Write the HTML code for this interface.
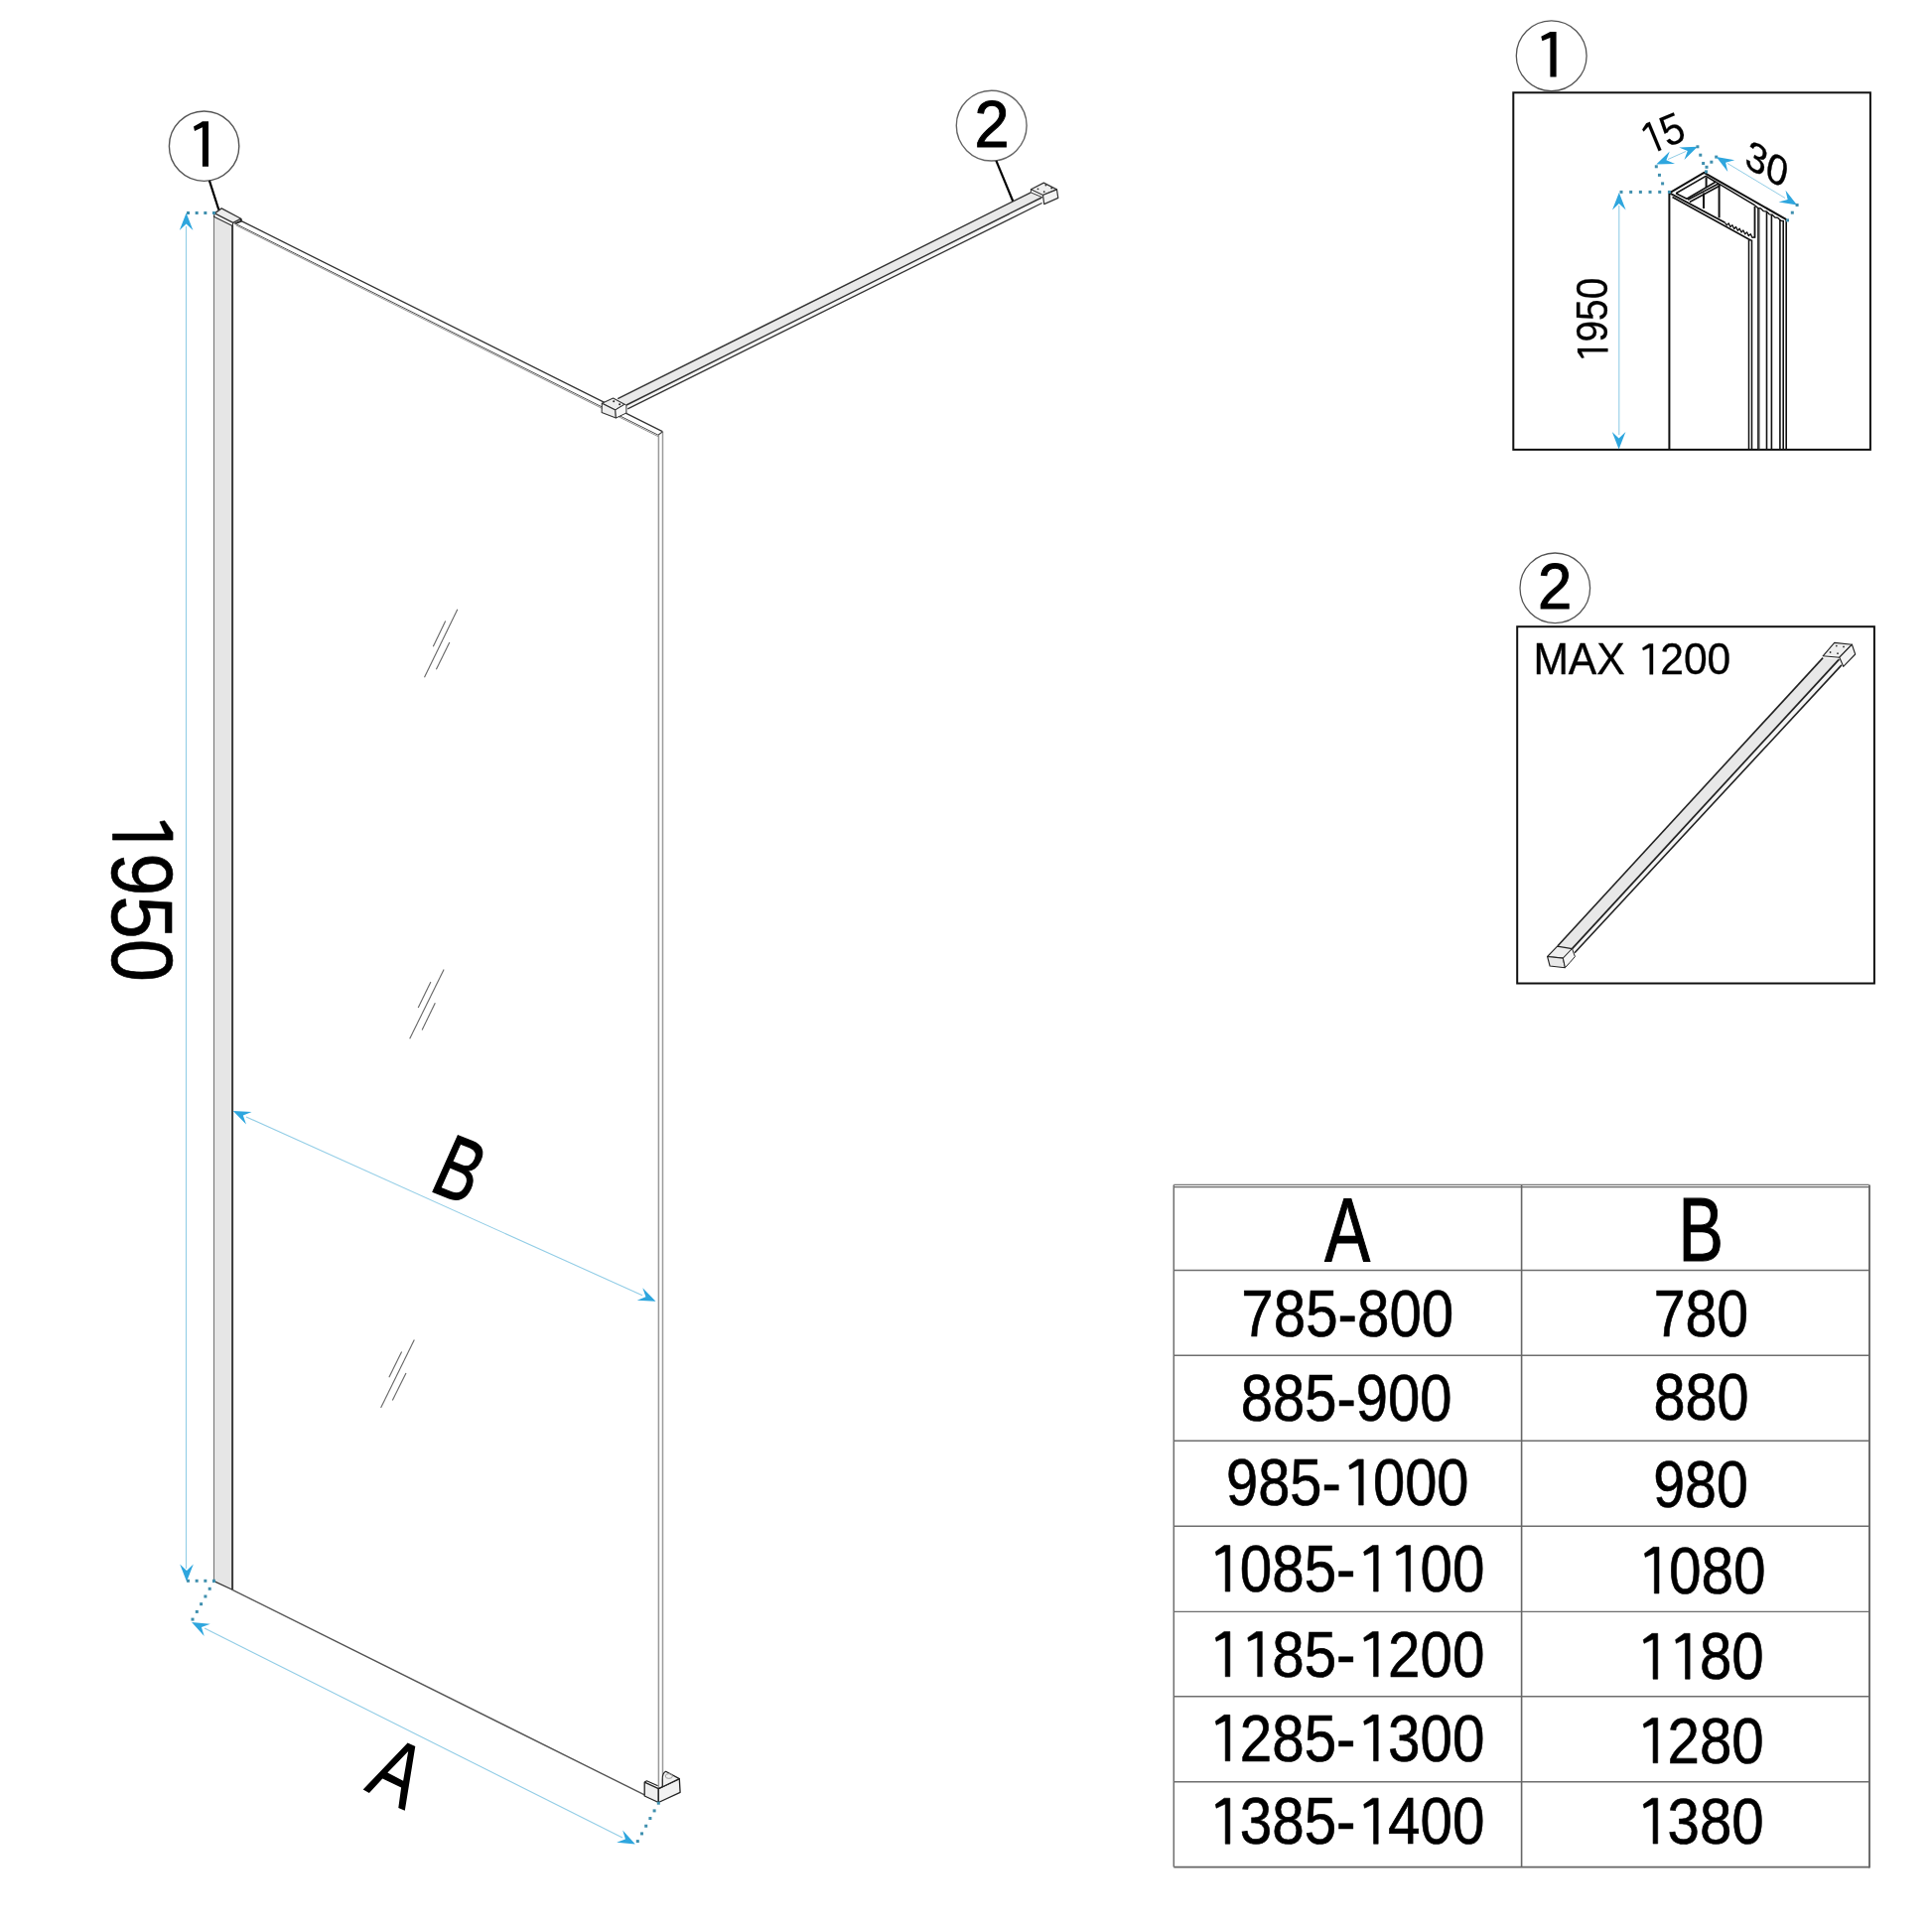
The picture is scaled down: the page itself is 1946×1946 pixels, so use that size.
<!DOCTYPE html>
<html><head><meta charset="utf-8"><style>
html,body{margin:0;padding:0;background:#fff;}
svg{display:block;will-change:transform;}
text{font-family:"Liberation Sans",sans-serif;}
</style></head><body>
<svg width="1946" height="1946" viewBox="0 0 1946 1946">
<rect x="0" y="0" width="1946" height="1946" fill="#fff"/>
<circle cx="205.6" cy="147.2" r="35.2" fill="#fff" stroke="#555" stroke-width="1.4"/>
<path d="M203.9,122.3 L210.0,122.3 L210.0,167.8 L203.9,167.8 L203.9,128.2 L196.0,132.0 L195.0,127.5 L202.5,123.2 Z" fill="#000"/>
<line x1="210.90" y1="181.80" x2="220.40" y2="211.50" stroke="#000" stroke-width="2.2"/>
<circle cx="998.7" cy="126.6" r="35.4" fill="#fff" stroke="#666" stroke-width="1.4"/>
<g transform="matrix(0.62998 0.00000 0.00000 0.66023 981.532 147.500)"><text x="0" y="0" font-size="100" fill="#000" stroke="#000" stroke-width="1.550" style="font-kerning:none">2</text></g>
<line x1="1003.40" y1="161.90" x2="1020.40" y2="203.00" stroke="#000" stroke-width="2.2"/>
<path d="M215.50,218.50 L234.20,227.50 L234.20,1601.30 L215.50,1592.60 Z" fill="#e6e6e6" stroke="none" stroke-width="1" stroke-linejoin="round"/>
<line x1="215.50" y1="218.00" x2="215.50" y2="1592.60" stroke="#777" stroke-width="1.1"/>
<line x1="234.10" y1="227.00" x2="234.10" y2="1601.50" stroke="#3a3a3a" stroke-width="2.0"/>
<line x1="215.50" y1="1592.60" x2="234.10" y2="1601.30" stroke="#333" stroke-width="1.2"/>
<path d="M216.20,214.90 L223.20,209.90 L242.70,220.30 L234.80,224.40 Z" fill="#ececec" stroke="#333" stroke-width="1.3" stroke-linejoin="round"/>
<path d="M216.20,214.90 L215.50,218.20 L234.20,227.50 L234.80,224.40" fill="none" stroke="#333" stroke-width="1.2" stroke-linejoin="round"/>
<path d="M242.70,220.30 L243.10,222.60 L236.50,225.50" fill="none" stroke="#222" stroke-width="1.8" stroke-linejoin="round"/>
<line x1="243.10" y1="222.60" x2="667.30" y2="434.70" stroke="#333" stroke-width="1.3"/>
<line x1="236.50" y1="225.00" x2="663.20" y2="438.30" stroke="#555" stroke-width="1.0"/>
<line x1="237.50" y1="226.80" x2="663.20" y2="439.80" stroke="#888" stroke-width="0.9"/>
<line x1="663.40" y1="438.00" x2="663.40" y2="1801.00" stroke="#999" stroke-width="1.5"/>
<line x1="667.50" y1="434.80" x2="667.50" y2="1799.00" stroke="#9a9a9a" stroke-width="1.5"/>
<line x1="663.20" y1="438.00" x2="667.50" y2="434.80" stroke="#444" stroke-width="1.1"/>
<line x1="234.10" y1="1601.30" x2="649.20" y2="1807.90" stroke="#555" stroke-width="1.4"/>
<line x1="460.80" y1="613.70" x2="427.50" y2="682.30" stroke="#666" stroke-width="1.1"/>
<line x1="448.70" y1="625.60" x2="436.30" y2="651.20" stroke="#666" stroke-width="1.1"/>
<line x1="452.80" y1="647.10" x2="439.40" y2="674.30" stroke="#666" stroke-width="1.1"/>
<line x1="447.10" y1="976.60" x2="412.70" y2="1046.20" stroke="#666" stroke-width="1.1"/>
<line x1="433.90" y1="989.00" x2="421.20" y2="1014.90" stroke="#666" stroke-width="1.1"/>
<line x1="438.30" y1="1010.20" x2="425.10" y2="1037.60" stroke="#666" stroke-width="1.1"/>
<line x1="417.30" y1="1349.50" x2="383.60" y2="1418.10" stroke="#666" stroke-width="1.1"/>
<line x1="404.60" y1="1361.40" x2="391.90" y2="1387.30" stroke="#666" stroke-width="1.1"/>
<line x1="409.00" y1="1382.90" x2="395.30" y2="1410.60" stroke="#666" stroke-width="1.1"/>
<path d="M622.20,401.70 L1038.40,193.90 L1049.20,199.00 L631.00,408.00 Z" fill="#e9e9e9" stroke="none" stroke-width="1" stroke-linejoin="round"/>
<path d="M631.00,408.00 L1049.20,199.00 L1049.60,204.50 L632.20,411.80 Z" fill="#f6f6f6" stroke="none" stroke-width="1" stroke-linejoin="round"/>
<line x1="622.20" y1="401.70" x2="1038.40" y2="193.90" stroke="#333" stroke-width="1.4"/>
<line x1="631.00" y1="408.00" x2="1049.20" y2="199.00" stroke="#333" stroke-width="1.4"/>
<line x1="632.20" y1="411.80" x2="1049.60" y2="204.50" stroke="#333" stroke-width="1.3"/>
<path d="M1038.40,190.70 L1051.30,184.10 L1064.50,190.90 L1050.50,196.50 Z" fill="#eeeeee" stroke="#333" stroke-width="1.2" stroke-linejoin="round"/>
<path d="M1050.50,196.50 L1064.50,190.90 L1065.80,199.40 L1051.70,205.60 Z" fill="#f3f3f3" stroke="#333" stroke-width="1.2" stroke-linejoin="round"/>
<path d="M1038.40,190.70 L1038.40,193.90 L1050.50,199.00" fill="none" stroke="#333" stroke-width="1.0" stroke-linejoin="round"/>
<circle cx="1053.4" cy="186.6" r="0.9" fill="#333"/>
<circle cx="1045.5" cy="190.3" r="0.9" fill="#333"/>
<circle cx="1059.2" cy="189.5" r="0.9" fill="#333"/>
<circle cx="1051.7" cy="193.2" r="0.9" fill="#333"/>
<path d="M606.30,406.30 L617.60,401.10 L629.10,407.30 L619.80,412.90 Z" fill="#ececec" stroke="#333" stroke-width="1.1" stroke-linejoin="round"/>
<path d="M606.30,406.30 L619.80,412.90 L620.40,421.00 L606.10,415.40 Z" fill="#eeeeee" stroke="#333" stroke-width="1.1" stroke-linejoin="round"/>
<path d="M619.80,412.90 L629.10,407.30 L630.90,408.00 L630.90,416.00 L620.40,421.00 Z" fill="#f8f8f8" stroke="#333" stroke-width="1.0" stroke-linejoin="round"/>
<circle cx="618.2" cy="404.2" r="1" fill="#222"/><circle cx="624.1" cy="407.3" r="1" fill="#222"/>
<path d="M649.20,1795.20 L663.30,1801.70 L663.30,1815.50 L649.20,1809.00 Z" fill="#efefef" stroke="#222" stroke-width="1.3" stroke-linejoin="round"/>
<path d="M663.30,1801.70 L684.30,1791.60 L685.10,1805.40 L663.30,1815.50 Z" fill="#f2f2f2" stroke="#222" stroke-width="1.3" stroke-linejoin="round"/>
<path d="M649.20,1795.20 L651.40,1793.80 L662.60,1798.80" fill="none" stroke="#222" stroke-width="1.2" stroke-linejoin="round"/>
<path d="M663.3,1801.7 L684.3,1791.6 L670.6,1784.3 Q667.0,1786.0 667.3,1792.5 L667.3,1799.8 Z" fill="#f2f2f2" stroke="#222" stroke-width="1.2" stroke-linejoin="round"/>
<ellipse cx="673.8" cy="1789.0" rx="3.6" ry="2.4" fill="none" stroke="#999" stroke-width="0.9"/>
<line x1="187.50" y1="228.00" x2="187.50" y2="1580.00" stroke="#92cde6" stroke-width="1.1"/>
<path d="M187.60,214.60 L194.40,232.10 L187.60,225.60 L180.80,232.10 Z" fill="#2ea6de"/>
<path d="M188.00,1593.00 L181.20,1575.50 L188.00,1582.00 L194.80,1575.50 Z" fill="#2ea6de"/>
<rect x="188.00" y="213.00" width="3.0" height="3.0" fill="#3f8fae"/><rect x="196.67" y="213.00" width="3.0" height="3.0" fill="#3f8fae"/><rect x="205.33" y="213.00" width="3.0" height="3.0" fill="#3f8fae"/><rect x="214.00" y="213.00" width="3.0" height="3.0" fill="#3f8fae"/>
<rect x="188.00" y="1590.80" width="3.0" height="3.0" fill="#3f8fae"/><rect x="196.67" y="1590.80" width="3.0" height="3.0" fill="#3f8fae"/><rect x="205.33" y="1590.80" width="3.0" height="3.0" fill="#3f8fae"/><rect x="214.00" y="1590.80" width="3.0" height="3.0" fill="#3f8fae"/>
<rect x="214.00" y="1591.10" width="3.0" height="3.0" fill="#3f8fae"/><rect x="209.70" y="1598.80" width="3.0" height="3.0" fill="#3f8fae"/><rect x="205.40" y="1606.50" width="3.0" height="3.0" fill="#3f8fae"/><rect x="201.10" y="1614.20" width="3.0" height="3.0" fill="#3f8fae"/><rect x="196.80" y="1621.90" width="3.0" height="3.0" fill="#3f8fae"/><rect x="192.50" y="1629.60" width="3.0" height="3.0" fill="#3f8fae"/>
<line x1="206.00" y1="1640.00" x2="627.00" y2="1851.00" stroke="#92cde6" stroke-width="1.1"/>
<path d="M193.10,1634.00 L211.79,1635.75 L202.94,1638.92 L205.71,1647.91 Z" fill="#2ea6de"/>
<path d="M639.80,1857.50 L621.11,1855.75 L629.96,1852.58 L627.20,1843.58 Z" fill="#2ea6de"/>
<rect x="661.80" y="1814.70" width="3.0" height="3.0" fill="#3f8fae"/><rect x="657.60" y="1822.38" width="3.0" height="3.0" fill="#3f8fae"/><rect x="653.40" y="1830.06" width="3.0" height="3.0" fill="#3f8fae"/><rect x="649.20" y="1837.74" width="3.0" height="3.0" fill="#3f8fae"/><rect x="645.00" y="1845.42" width="3.0" height="3.0" fill="#3f8fae"/><rect x="640.80" y="1853.10" width="3.0" height="3.0" fill="#3f8fae"/>
<line x1="248.00" y1="1125.00" x2="647.00" y2="1304.70" stroke="#92cde6" stroke-width="1.1"/>
<path d="M234.80,1119.00 L253.55,1119.99 L244.83,1123.52 L247.96,1132.39 Z" fill="#2ea6de"/>
<path d="M660.50,1310.70 L641.75,1309.73 L650.47,1306.19 L647.32,1297.33 Z" fill="#2ea6de"/>
<g transform="matrix(0.00000 0.77801 -0.86863 0.00000 113.448 815.964)"><text x="0" y="0" font-size="100" fill="#000" stroke="#000" stroke-width="0.729" style="font-kerning:none"> 950</text><path transform="translate(0.000,0)" d="M30.8,-69.8 L38.7,-69.8 L38.7,0 L30.8,0 L30.8,-61.0 L15.2,-54.6 L13.8,-60.2 L29.0,-69.8 Z" fill="#000" stroke="#000" stroke-width="0.729"/></g>
<text transform="matrix(0.589 0.236 -0.368 0.825 431.1 1198.5)" font-size="100" fill="#000" stroke="#000" stroke-width="1.4">B</text>
<path d="M365.7,1802.6 L371.9,1806.0 L385.3,1791.5 L404.1,1800.4 L401.3,1820.9 L407.8,1823.7 L418.3,1759.1 L410.6,1755.4 Z M411.2,1763.9 L390.4,1785.6 L406.1,1793.8 Z" fill="#000" fill-rule="evenodd"/>
<circle cx="1562.7" cy="56.2" r="35.4" fill="#fff" stroke="#555" stroke-width="1.3"/>
<path d="M1561.4,32.0 L1567.6,32.0 L1567.6,77.6 L1561.4,77.6 L1561.4,38.0 L1553.4,41.3 L1552.3,36.8 L1560.0,32.8 Z" fill="#000"/>
<rect x="1524.3" y="93.3" width="359.6" height="359.6" fill="none" stroke="#111" stroke-width="2"/>
<line x1="1681.40" y1="194.40" x2="1681.40" y2="452.90" stroke="#111" stroke-width="2"/>
<path d="M1681.60,194.40 L1716.40,173.80 L1799.30,221.20" fill="none" stroke="#111" stroke-width="2" stroke-linejoin="round"/>
<line x1="1681.60" y1="194.40" x2="1737.50" y2="224.30" stroke="#111" stroke-width="1.8"/>
<line x1="1684.50" y1="198.50" x2="1763.80" y2="242.20" stroke="#111" stroke-width="1.6"/>
<path d="M1688.10,194.80 L1718.20,177.40 L1728.00,183.20 L1699.00,200.20 L1688.10,194.80" fill="none" stroke="#111" stroke-width="1.6" stroke-linejoin="round"/>
<line x1="1700.10" y1="201.30" x2="1730.90" y2="185.00" stroke="#111" stroke-width="1.6"/>
<line x1="1701.90" y1="203.50" x2="1732.30" y2="187.00" stroke="#111" stroke-width="1.6"/>
<line x1="1716.00" y1="194.50" x2="1716.00" y2="210.00" stroke="#111" stroke-width="2"/>
<line x1="1718.60" y1="178.50" x2="1718.60" y2="189.00" stroke="#111" stroke-width="2"/>
<line x1="1731.60" y1="186.00" x2="1731.60" y2="219.40" stroke="#111" stroke-width="2"/>
<line x1="1767.50" y1="207.80" x2="1767.50" y2="239.70" stroke="#111" stroke-width="1.8"/>
<path d="M1737.50,224.30 L1739.34,226.89 L1741.17,224.89 L1743.01,228.68 L1744.85,226.68 L1746.69,230.47 L1748.53,228.46 L1750.36,232.26 L1752.20,230.25 L1754.04,234.04 L1755.88,232.04 L1757.71,235.83 L1759.55,233.83 L1761.39,237.62 L1763.23,235.61 L1765.06,239.41 L1766.90,238.80 L1767.80,239.20" fill="none" stroke="#111" stroke-width="1.3" stroke-linejoin="round"/>
<line x1="1761.50" y1="241.50" x2="1761.50" y2="452.90" stroke="#111" stroke-width="1.5"/>
<line x1="1764.50" y1="241.50" x2="1764.50" y2="452.90" stroke="#111" stroke-width="1.5"/>
<line x1="1770.90" y1="209.30" x2="1770.90" y2="452.90" stroke="#111" stroke-width="1.5"/>
<line x1="1772.00" y1="210.00" x2="1772.00" y2="452.90" stroke="#333" stroke-width="1.0"/>
<line x1="1779.50" y1="213.60" x2="1779.50" y2="452.90" stroke="#111" stroke-width="1.6"/>
<line x1="1784.40" y1="216.50" x2="1784.40" y2="452.90" stroke="#111" stroke-width="1.6"/>
<line x1="1792.90" y1="221.00" x2="1792.90" y2="452.90" stroke="#111" stroke-width="1.6"/>
<line x1="1796.20" y1="222.00" x2="1796.20" y2="452.90" stroke="#111" stroke-width="1.6"/>
<line x1="1799.20" y1="221.20" x2="1799.20" y2="452.90" stroke="#111" stroke-width="1.6"/>
<line x1="1728.00" y1="183.20" x2="1767.80" y2="206.90" stroke="#111" stroke-width="1.5"/>
<path d="M1767.80,206.90 L1770.67,209.49 L1773.54,209.88 L1776.41,212.67 L1779.28,213.06 L1782.15,215.85 L1785.02,216.24 L1787.89,219.03 L1790.76,219.42 L1793.63,222.21 L1796.50,222.60" fill="none" stroke="#111" stroke-width="1.4" stroke-linejoin="round"/>
<line x1="1630.80" y1="207.00" x2="1630.80" y2="438.00" stroke="#92cde6" stroke-width="1.1"/>
<path d="M1630.80,194.00 L1637.60,211.50 L1630.80,205.00 L1624.00,211.50 Z" fill="#2ea6de"/>
<path d="M1630.60,452.40 L1623.80,434.90 L1630.60,441.40 L1637.40,434.90 Z" fill="#2ea6de"/>
<rect x="1631.50" y="191.90" width="3.0" height="3.0" fill="#3f8fae"/><rect x="1641.18" y="191.90" width="3.0" height="3.0" fill="#3f8fae"/><rect x="1650.86" y="191.90" width="3.0" height="3.0" fill="#3f8fae"/><rect x="1660.54" y="191.90" width="3.0" height="3.0" fill="#3f8fae"/><rect x="1670.22" y="191.90" width="3.0" height="3.0" fill="#3f8fae"/><rect x="1679.90" y="191.90" width="3.0" height="3.0" fill="#3f8fae"/>
<rect x="1673.10" y="183.40" width="3.0" height="3.0" fill="#3f8fae"/><rect x="1669.95" y="174.85" width="3.0" height="3.0" fill="#3f8fae"/><rect x="1666.80" y="166.30" width="3.0" height="3.0" fill="#3f8fae"/>
<line x1="1680.00" y1="160.50" x2="1698.00" y2="152.50" stroke="#92cde6" stroke-width="1.0"/>
<path d="M1668.30,165.50 L1681.74,152.39 L1678.42,161.19 L1687.07,164.91 Z" fill="#2ea6de"/>
<path d="M1709.90,147.80 L1696.46,160.91 L1699.78,152.11 L1691.13,148.39 Z" fill="#2ea6de"/>
<rect x="1708.40" y="146.30" width="3.0" height="3.0" fill="#3f8fae"/><rect x="1711.27" y="154.67" width="3.0" height="3.0" fill="#3f8fae"/><rect x="1714.13" y="163.03" width="3.0" height="3.0" fill="#3f8fae"/><rect x="1717.00" y="171.40" width="3.0" height="3.0" fill="#3f8fae"/>
<rect x="1727.20" y="156.60" width="3.0" height="3.0" fill="#3f8fae"/><rect x="1722.35" y="161.70" width="3.0" height="3.0" fill="#3f8fae"/><rect x="1717.50" y="166.80" width="3.0" height="3.0" fill="#3f8fae"/>
<line x1="1740.00" y1="164.50" x2="1798.00" y2="199.50" stroke="#92cde6" stroke-width="1.0"/>
<path d="M1728.70,158.10 L1747.22,161.20 L1738.15,163.72 L1740.27,172.89 Z" fill="#2ea6de"/>
<path d="M1810.10,206.50 L1791.58,203.40 L1800.65,200.88 L1798.53,191.71 Z" fill="#2ea6de"/>
<rect x="1808.60" y="205.00" width="3.0" height="3.0" fill="#3f8fae"/><rect x="1803.80" y="212.70" width="3.0" height="3.0" fill="#3f8fae"/><rect x="1799.00" y="220.40" width="3.0" height="3.0" fill="#3f8fae"/>
<g transform="matrix(0.00000 -0.38851 0.43573 0.00000 1619.449 366.136)"><text x="0" y="0" font-size="100" fill="#000" stroke="#000" stroke-width="0.607" style="font-kerning:none"> 950</text><path transform="translate(0.000,0)" d="M30.8,-69.8 L38.7,-69.8 L38.7,0 L30.8,0 L30.8,-61.0 L15.2,-54.6 L13.8,-60.2 L29.0,-69.8 Z" fill="#000" stroke="#000" stroke-width="0.607"/></g>
<g transform="matrix(0.36955 -0.15307 0.16838 0.40651 1659.190 157.030)"><text x="0" y="0" font-size="100" fill="#000" stroke="#000" stroke-width="0.370" style="font-kerning:none"> 5</text><path transform="translate(0.000,0)" d="M30.8,-69.8 L38.7,-69.8 L38.7,0 L30.8,0 L30.8,-61.0 L15.2,-54.6 L13.8,-60.2 L29.0,-69.8 Z" fill="#000" stroke="#000" stroke-width="0.370"/></g>
<g transform="matrix(0.36700 0.21000 -0.09000 0.39600 1756.260 167.080)"><text x="0" y="0" font-size="100" fill="#000" stroke="#000" stroke-width="0.897" style="font-kerning:none">30</text></g>
<circle cx="1566.3" cy="592.3" r="35.3" fill="#fff" stroke="#555" stroke-width="1.3"/>
<g transform="matrix(0.61681 0.00000 0.00000 0.64304 1548.898 612.900)"><text x="0" y="0" font-size="100" fill="#000" stroke="#000" stroke-width="1.587" style="font-kerning:none">2</text></g>
<rect x="1528.2" y="631.2" width="359.7" height="359.3" fill="none" stroke="#111" stroke-width="2"/>
<g transform="matrix(0.42598 0.00000 0.00000 0.44279 1544.381 679.293)"><text x="0" y="0" font-size="100" fill="#000" stroke="#000" stroke-width="0.806" style="font-kerning:none">MAX  200</text><path transform="translate(244.482,0)" d="M30.8,-69.8 L38.7,-69.8 L38.7,0 L30.8,0 L30.8,-61.0 L15.2,-54.6 L13.8,-60.2 L29.0,-69.8 Z" fill="#000" stroke="#000" stroke-width="0.806"/></g>
<path d="M1569.00,952.70 L1836.10,662.60 L1852.40,664.10 L1583.50,955.60 Z" fill="#e8e8e8" stroke="none" stroke-width="1" stroke-linejoin="round"/>
<path d="M1583.50,955.60 L1852.40,664.10 L1854.90,669.90 L1586.00,959.80 Z" fill="#f4f4f4" stroke="none" stroke-width="1" stroke-linejoin="round"/>
<line x1="1569.00" y1="952.70" x2="1836.10" y2="662.60" stroke="#222" stroke-width="1.6"/>
<line x1="1583.50" y1="955.60" x2="1852.40" y2="664.10" stroke="#222" stroke-width="1.7"/>
<line x1="1586.00" y1="959.80" x2="1854.90" y2="669.90" stroke="#222" stroke-width="1.6"/>
<path d="M1558.60,963.50 L1568.60,953.10 L1583.50,955.60 L1574.40,965.10 Z" fill="#eeeeee" stroke="#222" stroke-width="1.1" stroke-linejoin="round"/>
<path d="M1558.60,963.50 L1574.40,965.10 L1576.40,974.70 L1561.10,973.00 Z" fill="#e9e9e9" stroke="#222" stroke-width="1.1" stroke-linejoin="round"/>
<path d="M1574.40,965.10 L1583.50,955.60 L1586.40,963.50 L1581.40,969.30 L1576.40,974.70 Z" fill="#f5f5f5" stroke="#222" stroke-width="1.0" stroke-linejoin="round"/>
<path d="M1836.10,660.80 L1847.70,647.40 L1865.40,649.20 L1852.80,662.20 Z" fill="#eeeeee" stroke="#222" stroke-width="1.1" stroke-linejoin="round"/>
<path d="M1852.80,662.20 L1865.40,649.20 L1868.70,659.00 L1856.70,671.30 Z" fill="#f3f3f3" stroke="#222" stroke-width="1.1" stroke-linejoin="round"/>
<circle cx="1849.8" cy="650.6" r="0.9" fill="#333"/>
<circle cx="1857.0" cy="651.4" r="0.9" fill="#333"/>
<circle cx="1843.6" cy="657.0" r="0.9" fill="#333"/>
<circle cx="1851.0" cy="658.2" r="0.9" fill="#333"/>
<line x1="1182.30" y1="1279.50" x2="1882.60" y2="1279.50" stroke="#6e6e6e" stroke-width="1.4"/>
<line x1="1182.30" y1="1365.20" x2="1882.60" y2="1365.20" stroke="#6e6e6e" stroke-width="1.4"/>
<line x1="1182.30" y1="1451.30" x2="1882.60" y2="1451.30" stroke="#6e6e6e" stroke-width="1.4"/>
<line x1="1182.30" y1="1537.30" x2="1882.60" y2="1537.30" stroke="#6e6e6e" stroke-width="1.4"/>
<line x1="1182.30" y1="1623.40" x2="1882.60" y2="1623.40" stroke="#6e6e6e" stroke-width="1.4"/>
<line x1="1182.30" y1="1708.70" x2="1882.60" y2="1708.70" stroke="#6e6e6e" stroke-width="1.4"/>
<line x1="1182.30" y1="1794.80" x2="1882.60" y2="1794.80" stroke="#6e6e6e" stroke-width="1.4"/>
<line x1="1182.30" y1="1193.40" x2="1882.60" y2="1193.40" stroke="#777" stroke-width="1.1"/>
<line x1="1182.30" y1="1195.60" x2="1882.60" y2="1195.60" stroke="#666" stroke-width="1.1"/>
<line x1="1182.30" y1="1880.60" x2="1883.00" y2="1880.60" stroke="#666" stroke-width="1.9"/>
<line x1="1182.30" y1="1193.40" x2="1182.30" y2="1880.60" stroke="#6e6e6e" stroke-width="1.5"/>
<line x1="1532.60" y1="1193.40" x2="1532.60" y2="1880.60" stroke="#666" stroke-width="1.6"/>
<line x1="1883.00" y1="1193.40" x2="1883.00" y2="1881.50" stroke="#666" stroke-width="1.9"/>
<g transform="matrix(0.68769 0.00000 0.00000 0.90699 1334.366 1269.700)"><text x="0" y="0" font-size="100" fill="#000" stroke="#000" stroke-width="1.254" style="font-kerning:none">A</text></g>
<g transform="matrix(0.68204 0.00000 0.00000 0.90699 1690.405 1269.700)"><text x="0" y="0" font-size="100" fill="#000" stroke="#000" stroke-width="1.259" style="font-kerning:none">B</text></g>
<g transform="matrix(0.58303 0.00000 0.00000 0.66101 1250.311 1345.854)"><text x="0" y="0" font-size="100" fill="#000" stroke="#000" stroke-width="0.965" style="font-kerning:none">785-800</text></g>
<g transform="matrix(0.57220 0.00000 0.00000 0.66666 1665.666 1345.849)"><text x="0" y="0" font-size="100" fill="#000" stroke="#000" stroke-width="0.969" style="font-kerning:none">780</text></g>
<g transform="matrix(0.58009 0.00000 0.00000 0.66807 1249.779 1431.348)"><text x="0" y="0" font-size="100" fill="#000" stroke="#000" stroke-width="0.961" style="font-kerning:none">885-900</text></g>
<g transform="matrix(0.57632 0.00000 0.00000 0.65818 1665.396 1429.957)"><text x="0" y="0" font-size="100" fill="#000" stroke="#000" stroke-width="0.972" style="font-kerning:none">880</text></g>
<g transform="matrix(0.57873 0.00000 0.00000 0.66101 1234.987 1516.054)"><text x="0" y="0" font-size="100" fill="#000" stroke="#000" stroke-width="0.968" style="font-kerning:none">985- 000</text><path transform="translate(200.146,0)" d="M30.8,-69.8 L38.7,-69.8 L38.7,0 L30.8,0 L30.8,-61.0 L15.2,-54.6 L13.8,-60.2 L29.0,-69.8 Z" fill="#000" stroke="#000" stroke-width="0.968"/></g>
<g transform="matrix(0.57314 0.00000 0.00000 0.65960 1665.213 1518.056)"><text x="0" y="0" font-size="100" fill="#000" stroke="#000" stroke-width="0.973" style="font-kerning:none">980</text></g>
<g transform="matrix(0.58391 0.00000 0.00000 0.66525 1216.242 1603.050)"><text x="0" y="0" font-size="100" fill="#000" stroke="#000" stroke-width="0.961" style="font-kerning:none"> 085-  00</text><path transform="translate(0.000,0)" d="M30.8,-69.8 L38.7,-69.8 L38.7,0 L30.8,0 L30.8,-61.0 L15.2,-54.6 L13.8,-60.2 L29.0,-69.8 Z" fill="#000" stroke="#000" stroke-width="0.961"/><path transform="translate(255.761,0)" d="M30.8,-69.8 L38.7,-69.8 L38.7,0 L30.8,0 L30.8,-61.0 L15.2,-54.6 L13.8,-60.2 L29.0,-69.8 Z" fill="#000" stroke="#000" stroke-width="0.961"/><path transform="translate(311.376,0)" d="M30.8,-69.8 L38.7,-69.8 L38.7,0 L30.8,0 L30.8,-61.0 L15.2,-54.6 L13.8,-60.2 L29.0,-69.8 Z" fill="#000" stroke="#000" stroke-width="0.961"/></g>
<g transform="matrix(0.58558 0.00000 0.00000 0.66807 1648.319 1604.948)"><text x="0" y="0" font-size="100" fill="#000" stroke="#000" stroke-width="0.957" style="font-kerning:none"> 080</text><path transform="translate(0.000,0)" d="M30.8,-69.8 L38.7,-69.8 L38.7,0 L30.8,0 L30.8,-61.0 L15.2,-54.6 L13.8,-60.2 L29.0,-69.8 Z" fill="#000" stroke="#000" stroke-width="0.957"/></g>
<g transform="matrix(0.58391 0.00000 0.00000 0.64971 1216.242 1688.766)"><text x="0" y="0" font-size="100" fill="#000" stroke="#000" stroke-width="0.973" style="font-kerning:none">  85- 200</text><path transform="translate(0.000,0)" d="M30.8,-69.8 L38.7,-69.8 L38.7,0 L30.8,0 L30.8,-61.0 L15.2,-54.6 L13.8,-60.2 L29.0,-69.8 Z" fill="#000" stroke="#000" stroke-width="0.973"/><path transform="translate(55.615,0)" d="M30.8,-69.8 L38.7,-69.8 L38.7,0 L30.8,0 L30.8,-61.0 L15.2,-54.6 L13.8,-60.2 L29.0,-69.8 Z" fill="#000" stroke="#000" stroke-width="0.973"/><path transform="translate(255.761,0)" d="M30.8,-69.8 L38.7,-69.8 L38.7,0 L30.8,0 L30.8,-61.0 L15.2,-54.6 L13.8,-60.2 L29.0,-69.8 Z" fill="#000" stroke="#000" stroke-width="0.973"/></g>
<g transform="matrix(0.58265 0.00000 0.00000 0.65818 1647.159 1691.257)"><text x="0" y="0" font-size="100" fill="#000" stroke="#000" stroke-width="0.967" style="font-kerning:none">  80</text><path transform="translate(0.000,0)" d="M30.8,-69.8 L38.7,-69.8 L38.7,0 L30.8,0 L30.8,-61.0 L15.2,-54.6 L13.8,-60.2 L29.0,-69.8 Z" fill="#000" stroke="#000" stroke-width="0.967"/><path transform="translate(55.615,0)" d="M30.8,-69.8 L38.7,-69.8 L38.7,0 L30.8,0 L30.8,-61.0 L15.2,-54.6 L13.8,-60.2 L29.0,-69.8 Z" fill="#000" stroke="#000" stroke-width="0.967"/></g>
<g transform="matrix(0.58391 0.00000 0.00000 0.66525 1216.242 1773.750)"><text x="0" y="0" font-size="100" fill="#000" stroke="#000" stroke-width="0.961" style="font-kerning:none"> 285- 300</text><path transform="translate(0.000,0)" d="M30.8,-69.8 L38.7,-69.8 L38.7,0 L30.8,0 L30.8,-61.0 L15.2,-54.6 L13.8,-60.2 L29.0,-69.8 Z" fill="#000" stroke="#000" stroke-width="0.961"/><path transform="translate(255.761,0)" d="M30.8,-69.8 L38.7,-69.8 L38.7,0 L30.8,0 L30.8,-61.0 L15.2,-54.6 L13.8,-60.2 L29.0,-69.8 Z" fill="#000" stroke="#000" stroke-width="0.961"/></g>
<g transform="matrix(0.58265 0.00000 0.00000 0.64971 1647.159 1775.766)"><text x="0" y="0" font-size="100" fill="#000" stroke="#000" stroke-width="0.974" style="font-kerning:none"> 280</text><path transform="translate(0.000,0)" d="M30.8,-69.8 L38.7,-69.8 L38.7,0 L30.8,0 L30.8,-61.0 L15.2,-54.6 L13.8,-60.2 L29.0,-69.8 Z" fill="#000" stroke="#000" stroke-width="0.974"/></g>
<g transform="matrix(0.58391 0.00000 0.00000 0.65960 1216.242 1857.256)"><text x="0" y="0" font-size="100" fill="#000" stroke="#000" stroke-width="0.965" style="font-kerning:none"> 385- 400</text><path transform="translate(0.000,0)" d="M30.8,-69.8 L38.7,-69.8 L38.7,0 L30.8,0 L30.8,-61.0 L15.2,-54.6 L13.8,-60.2 L29.0,-69.8 Z" fill="#000" stroke="#000" stroke-width="0.965"/><path transform="translate(255.761,0)" d="M30.8,-69.8 L38.7,-69.8 L38.7,0 L30.8,0 L30.8,-61.0 L15.2,-54.6 L13.8,-60.2 L29.0,-69.8 Z" fill="#000" stroke="#000" stroke-width="0.965"/></g>
<g transform="matrix(0.58265 0.00000 0.00000 0.65677 1647.159 1857.059)"><text x="0" y="0" font-size="100" fill="#000" stroke="#000" stroke-width="0.968" style="font-kerning:none"> 380</text><path transform="translate(0.000,0)" d="M30.8,-69.8 L38.7,-69.8 L38.7,0 L30.8,0 L30.8,-61.0 L15.2,-54.6 L13.8,-60.2 L29.0,-69.8 Z" fill="#000" stroke="#000" stroke-width="0.968"/></g>
</svg></body></html>
